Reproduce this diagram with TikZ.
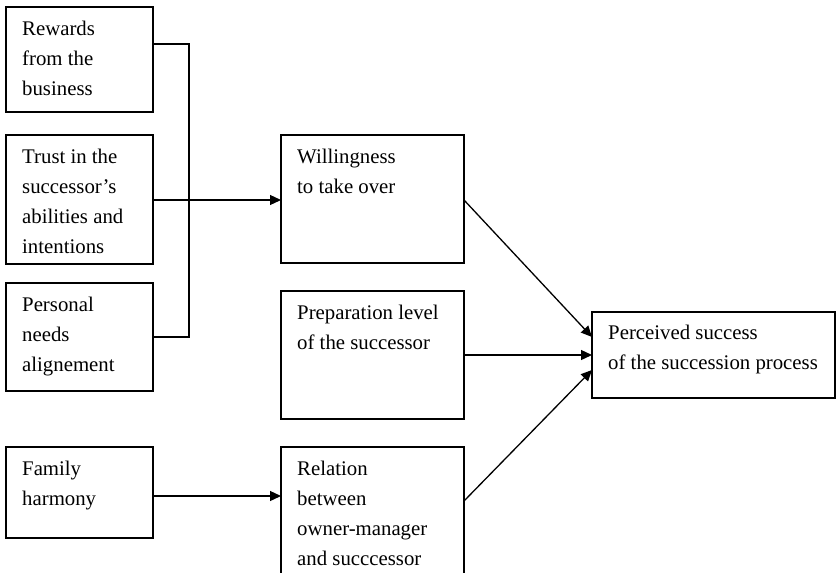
\documentclass[tikz,border=0pt]{standalone}
\usepackage{fontspec}
\setmainfont{Liberation Serif}
\usetikzlibrary{arrows.meta}
\newcommand{\fl}{\rule{0pt}{15pt}}
\begin{document}
\begin{tikzpicture}[x=1pt,y=-1pt,
  box/.style={draw,line width=1.3pt},
  lbl/.style={anchor=north west,align=left,inner sep=0pt,font=\fontsize{20.8}{30}\selectfont},
  conn/.style={line width=1.3pt},
  arr/.style={conn,-{Triangle[length=11pt,width=10pt]}}]
\useasboundingbox (0,0) rectangle (836,573);
\clip (0,0) rectangle (836,573);
% left column
\draw[box] (6,7) rectangle (153,112);
\coordinate (rew) at (153,44);
\node[lbl] (trew) at (22,20) {\fl Rewards\\from the\\business};
\draw[box] (6,135) rectangle (153,264);
\coordinate (tru) at (153,200);
\node[lbl] (ttru) at (22,148) {\fl Trust in the\\successor’s\\abilities and\\intentions};
\draw[box] (6,283) rectangle (153,391);
\coordinate (per) at (153,337);
\node[lbl] (tper) at (22,296) {\fl Personal\\needs\\alignement};
\draw[box] (6,447) rectangle (153,538);
\coordinate (fam) at (153,496);
\node[lbl] (tfam) at (22,460) {\fl Family\\harmony};
% middle column
\draw[box] (281,135) rectangle (464,263);
\coordinate (willL) at (281,200);
\coordinate (willR) at (464,200);
\node[lbl] (twill) at (297,148) {\fl Willingness\\to take over};
\draw[box] (281,291) rectangle (464,419);
\coordinate (prepR) at (464,355);
\node[lbl] (tprep) at (297,304) {\fl Preparation level\\of the successor};
\draw[box] (281,447) rectangle (464,600);
\coordinate (relL) at (281,496);
\coordinate (relR) at (464,501);
\node[lbl] (trel) at (297,460) {\fl Relation\\between\\owner-manager\\and succcessor};
% right
\draw[box] (592,312) rectangle (835,398);
\coordinate (outA) at (592,337);
\coordinate (outB) at (592,355);
\coordinate (outC) at (592,370);
\node[lbl] (tout) at (608,324) {\fl Perceived success\\of the succession process};
% connectors
\coordinate (jTop) at (189,44);
\coordinate (jBot) at (189,337);
\draw[conn] (rew) -- (jTop) -- (jBot) -- (per);
\draw[arr] (tru) -- (willL);
\draw[arr] (fam) -- (relL);
\draw[arr] (willR) -- (outA);
\draw[arr] (prepR) -- (outB);
\draw[arr] (relR) -- (outC);
\end{tikzpicture}
\end{document}
